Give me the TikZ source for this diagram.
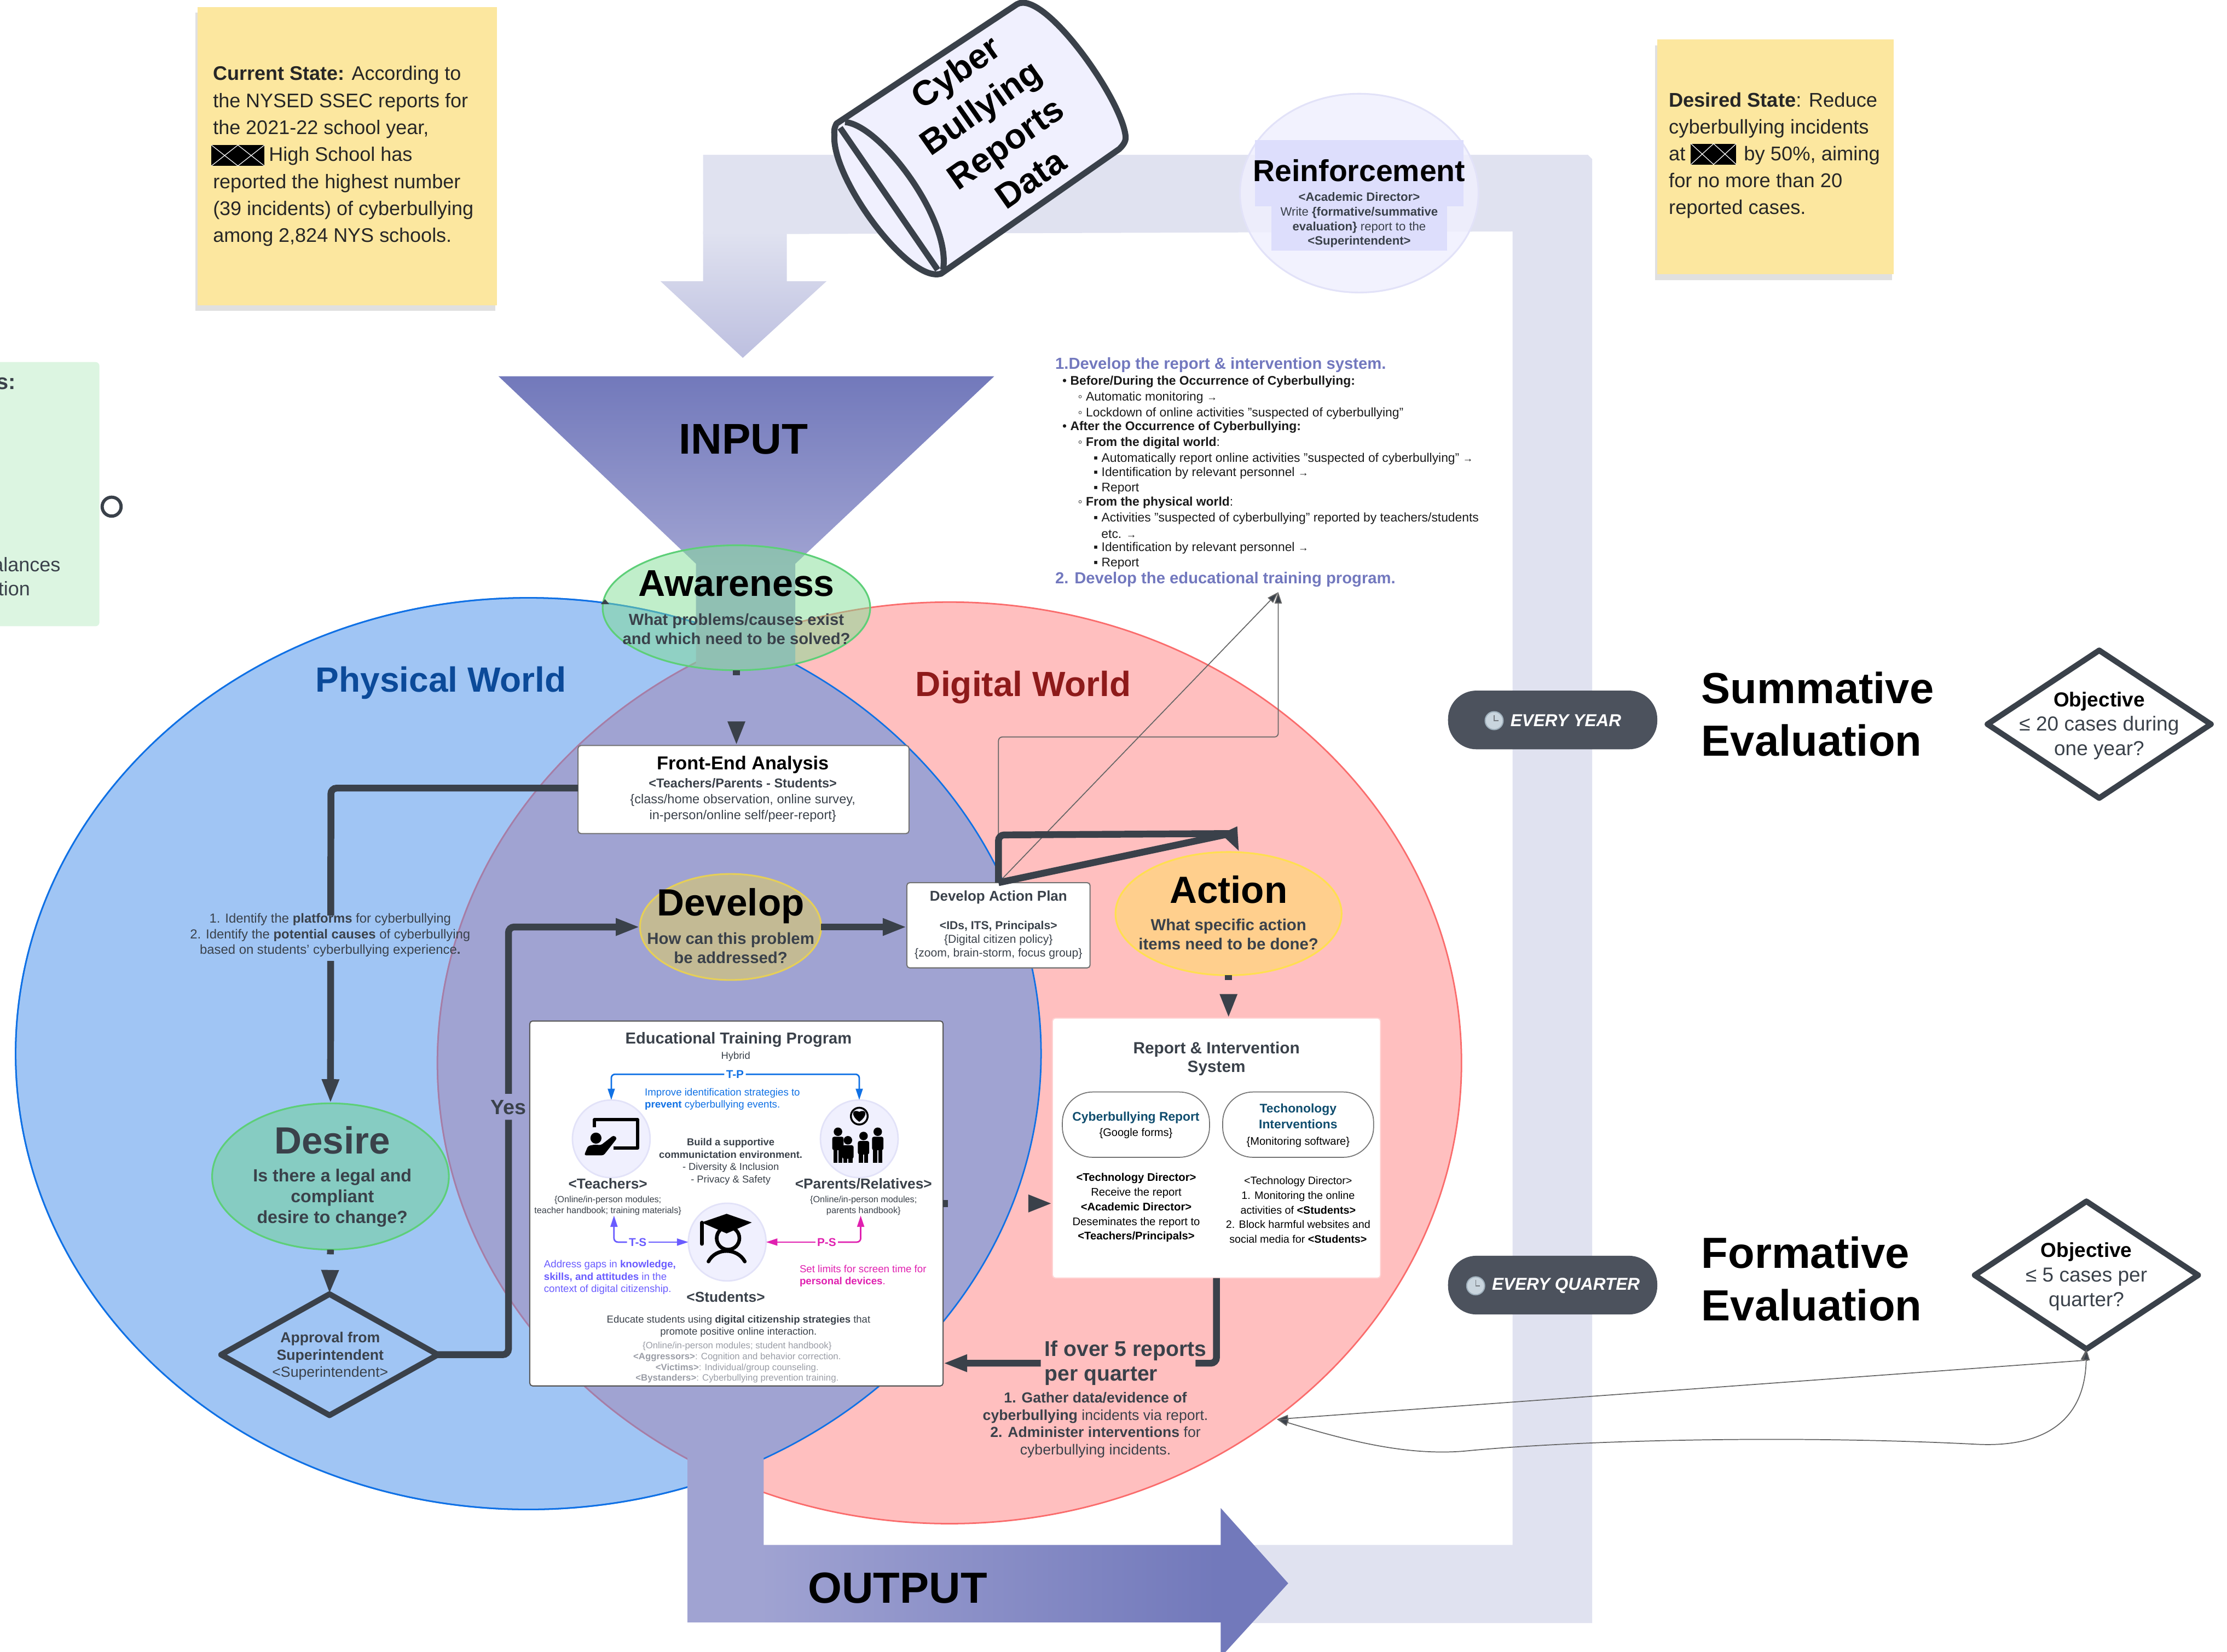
\documentclass[tikz,border=0pt]{standalone}
\usepackage{fontspec}
\setmainfont{Liberation Sans}
\usetikzlibrary{arrows.meta,shapes.geometric,shadows}

\definecolor{darkline}{HTML}{3A414A}
\definecolor{bandcol}{HTML}{E0E2F0}
\definecolor{funneltop}{HTML}{7279BB}
\definecolor{funnelbot}{HTML}{A0A3D2}
\definecolor{worldblue}{HTML}{A0C5F4}
\definecolor{bluestroke}{HTML}{1071E5}
\definecolor{worldpink}{HTML}{FFBFBF}
\definecolor{pinkstroke}{HTML}{FA6C6C}
\definecolor{lensstroke}{HTML}{A47EA8}
\definecolor{stickycol}{HTML}{FCE79F}
\definecolor{mintcol}{HTML}{DCF5E1}
\definecolor{palecol}{HTML}{F0F0FE}
\definecolor{paleedge}{HTML}{E2E2F8}
\definecolor{labelcol}{HTML}{DDDEFC}
\definecolor{headcol}{HTML}{7278BE}
\definecolor{tpcol}{HTML}{1071E5}
\definecolor{tscol}{HTML}{6A5CFF}
\definecolor{pscol}{HTML}{E020B0}
\definecolor{greytext}{HTML}{9A9DA6}
\definecolor{tealtext}{HTML}{0F4D6E}
\definecolor{pillcol}{HTML}{4C525D}
\definecolor{physicaltext}{HTML}{0B4A99}
\definecolor{digitaltext}{HTML}{8E1A1A}
\definecolor{awarefill}{HTML}{81DD95}
\definecolor{greenedge}{HTML}{5DCF78}
\definecolor{desirefill}{HTML}{86CCC2}
\definecolor{developfill}{HTML}{C3BA94}
\definecolor{developedge}{HTML}{E6CF57}
\definecolor{actionfill}{HTML}{FFCF8D}
\definecolor{actionedge}{HTML}{FFDF50}
\definecolor{clockfill}{HTML}{C9D5DE}
\definecolor{clockedge}{HTML}{9FB0BC}

\pgfdeclarehorizontalshading{outputshade}{100bp}{color(0bp)=(funnelbot); color(31bp)=(funnelbot); color(69bp)=(funneltop); color(100bp)=(funneltop)}
\pgfdeclareverticalshading{funnelshade}{100bp}{color(0bp)=(funnelbot); color(42bp)=(funnelbot); color(75bp)=(funneltop); color(100bp)=(funneltop)}

\newcommand{\fsz}[2]{\fontsize{#1pt}{#2pt}\selectfont}
\newcommand{\lmk}[1]{\makebox[4.2pt][l]{#1}}
\newcommand{\rarr}{{\fsz{5.5}{6}→}}

\tikzset{
  txt/.style={inner sep=0pt,outer sep=0pt,align=center,text=darkline},
  txtl/.style={inner sep=0pt,outer sep=0pt,align=left,anchor=west,text=darkline},
  boxnode/.style={rectangle,rounded corners=1.5pt,fill=white,draw=#1,line width=.6pt,inner sep=0pt,outer sep=0pt},
  oval/.style={ellipse,inner sep=0pt,outer sep=0pt,line width=.9pt},
  decision/.style={diamond,draw=darkline,line width=3pt,line join=round,inner sep=0pt,outer sep=0pt},
  sticky/.style={rectangle,fill=stickycol,inner sep=0pt,outer sep=0pt,drop shadow={shadow xshift=-1pt,shadow yshift=-3pt,fill=black,opacity=.12}},
  pillnode/.style={rectangle,fill=pillcol,rounded corners=15pt,inner sep=0pt,outer sep=0pt,minimum width=110.5pt,minimum height=31pt},
  rolecircle/.style={circle,fill=palecol,draw=paleedge,line width=.8pt,minimum size=41pt,inner sep=0pt,outer sep=0pt},
  thickarrow/.style={draw=darkline,line width=3.6pt,rounded corners=3pt,-{Triangle[length=12.75pt,width=8.4pt]}},
  thinarrow/.style={draw=black!60,line width=.5pt,rounded corners=2pt,-{Triangle[length=6pt,width=3.8pt,fill=darkline]}},
  rolearrow/.style={draw=#1,line width=.8pt,rounded corners=2pt,-{Triangle[length=6pt,width=3.7pt]}},
  stubline/.style={dash pattern=on 2.5pt off 200pt},
  redactbox/.style={rectangle,fill=black,inner sep=0pt,outer sep=0pt,minimum width=#1,minimum height=11pt}
}

\begin{document}
\begin{tikzpicture}[x=0.75pt,y=0.75pt,yscale=-1,xscale=1]
  \path[use as bounding box,clip] (0,0) rectangle (1568,1163);

  %Shape: Feedback band
  \fill [bandcol] (495,165) -- (495,109) -- (1118,109) -- (1121,112) -- (1121,1143) -- (860,1143) -- (860,1088) -- (1065,1088) -- (1065,163) -- cycle ;
  %Shape: Arrow into funnel
  \shade [top color=bandcol,bottom color=funnelbot!55!bandcol] (495,163) -- (554,163) -- (554,198) -- (582,198) -- (523,252) -- (465,198) -- (495,198) -- cycle ;

  %Shape: Physical and digital worlds
  \draw [fill=worldblue,draw=bluestroke,line width=.8pt] (372,742) ellipse [x radius=361,y radius=321] ;
  \draw [fill=worldpink,draw=pinkstroke,line width=.8pt] (668.5,748.5) ellipse [x radius=360.5,y radius=324.5] ;
  \begin{scope}
    \clip (372,742) ellipse [x radius=361,y radius=321] ;
    \draw [fill=funnelbot,draw=lensstroke,line width=.8pt] (668.5,748.5) ellipse [x radius=360.5,y radius=324.5] ;
  \end{scope}
  \draw [bluestroke,line width=.8pt] (372,742) ellipse [x radius=361,y radius=321] ;

  %Shape: Funnel
  \shade [shading=funnelshade] (351,265) -- (700,265) -- (560,397) -- (560,468) -- (490,468) -- (490,397) -- cycle ;
  %Shape: Output arrow
  \shade [shading=outputshade] (484,1015) -- (537.7,1015) -- (537.7,1088) -- (859.5,1088) -- (859.5,1062) -- (907,1115) -- (859.5,1167) -- (859.5,1142.5) -- (484,1142.5) -- cycle ;

  %Shape: Cylinder
  \draw [fill=palecol,draw=darkline,line width=3.2pt,line join=round] (589,87) -- (716,3) .. controls (735,-8) and (790,70) .. (792.5,96) .. controls (793,100) and (790,103) .. (788,105) -- (662.6,192.7) .. controls (640,200) and (585,125) .. (587.5,95) .. controls (587,91) and (588,89) .. (589,87) -- cycle ;
  \draw [darkline,line width=3.2pt] (595,86) .. controls (620,88) and (670,155) .. (664,190) ;
  \draw [darkline,line width=3.2pt] (591.5,90) -- (660.2,190) ;
  % Text Node
  \draw (699,88) node [txt,text=black,rotate=35,font=\fsz{18.5}{23}\bfseries] (cylindertext) {Cyber\\Bullying\\Reports\\Data};

  %Shape: Reinforcement
  \draw (957,136) node [oval,fill=palecol,fill opacity=.85,draw=paleedge,minimum width=126pt,minimum height=105pt] (reinforceoval) {};
  \draw (957,122) node [rectangle,fill=labelcol,inner sep=0pt,minimum width=110pt,minimum height=35pt] (reinforcerect) {};
  \draw (957,155) node [rectangle,fill=labelcol,inner sep=0pt,minimum width=93pt,minimum height=32pt,align=center,text=darkline,font=\fsz{6.4}{7.7}] (reinforcetext) {\textbf{<Academic Director>}\\Write \textbf{\{formative/summative}\\\textbf{evaluation\}} report to the\\\textbf{<Superintendent>}};
  % Text Node
  \draw (957,120) node [txt,text=black,font=\fsz{16}{18}\bfseries] (reinforcetitle) {Reinforcement};

  %Shape: Sticky notes
  \draw (244.5,110) node [sticky,minimum width=158.25pt,minimum height=157.5pt] (currentnote) {};
  \draw (1250,110.5) node [sticky,minimum width=125pt,minimum height=124pt] (desirednote) {};
  % Text Node
  \draw (150,110) node [txtl,text=black!85,font=\fsz{10.4}{14.25}] (currenttext) {\textbf{Current State:} According to\\the NYSED SSEC reports for\\the 2021-22 school year,\\\hspace*{29.5pt}High School has\\reported the highest number\\(39 incidents) of cyberbullying\\among 2,824 NYS schools.};
  % Text Node
  \draw (1175,109.5) node [txtl,text=black!85,font=\fsz{10.5}{14.1}] (desiredtext) {\textbf{Desired State}: Reduce\\cyberbullying incidents\\at \hspace*{28pt}by 50\%, aiming\\for no more than 20\\reported cases.};
  %Shape: Redaction
  \draw (167.5,109.5) node [redactbox=28pt] (redactone) {};
  \draw (1206.5,108.5) node [redactbox=24pt] (redacttwo) {};
  \foreach \rn in {redactone,redacttwo}{
    \draw [white,line width=.35pt] (\rn.north west) -- (\rn.south) -- (\rn.north east) (\rn.south west) -- (\rn.north) -- (\rn.south east) ;
  }

  %Shape: Green note
  \draw [fill=mintcol,draw=none,rounded corners=2pt] (-20,255) rectangle (70,441) ;
  \draw (78.6,356.8) node [circle,draw=darkline,line width=1.7pt,minimum size=10pt,inner sep=0pt] (mintring) {};
  % Text Node
  \draw (11,270) node [txtl,anchor=east,font=\fsz{11.5}{14}\bfseries] (mintone) {s:};
  \draw (42.5,397.5) node [txtl,anchor=east,font=\fsz{10.4}{14}] (minttwo) {alances};
  \draw (21.2,414.5) node [txtl,anchor=east,font=\fsz{10.4}{14}] (mintthree) {tion};

  % Text Node
  \draw (523.5,309.5) node [txt,text=black,font=\fsz{22.7}{26}\bfseries] (inputtitle) {INPUT};
  \draw (632,1118.5) node [txt,text=black,font=\fsz{23}{26}\bfseries] (outputtitle) {OUTPUT};
  \draw (310.5,481) node [txt,text=physicaltext,font=\fsz{18.5}{22}\bfseries] (physicaltitle) {Physical World};
  \draw (720.5,484) node [txt,text=digitaltext,font=\fsz{18.5}{22}\bfseries] (digitaltitle) {Digital World};

  % Text Node: development list
  \draw (743,257) node [txtl,text=headcol,font=\fsz{8.45}{10}\bfseries] (listhead) {1.Develop the report \& intervention system.};
  \foreach \yy/\xx/\itm in {
    268/748/{\lmk{•}\textbf{Before/During the Occurrence of Cyberbullying:}},
    279/759/{\lmk{◦}Automatic monitoring \rarr},
    290/759/{\lmk{◦}Lockdown of online activities "suspected of cyberbullying"},
    300/748/{\lmk{•}\textbf{After the Occurrence of Cyberbullying:}},
    311/759/{\lmk{◦}\textbf{From the digital world}:},
    322/770/{\lmk{▪}Automatically report online activities "suspected of cyberbullying" \rarr},
    332/770/{\lmk{▪}Identification by relevant personnel \rarr},
    343/770/{\lmk{▪}Report},
    353/759/{\lmk{◦}\textbf{From the physical world}:},
    364/770/{\lmk{▪}Activities "suspected of cyberbullying" reported by teachers/students},
    375/775.5/{etc. \rarr},
    385/770/{\lmk{▪}Identification by relevant personnel \rarr},
    396/770/{\lmk{▪}Report}}{
    \draw (\xx,\yy+1) node [txtl,text=black!90,font=\fsz{6.6}{8}] (listline\yy) {\itm};
  }
  \draw (743,408) node [txtl,text=headcol,font=\fsz{8.45}{10}\bfseries] (listend) {2. Develop the educational training program.};

  %Shape: Pills
  \draw (1093.2,507) node [pillnode] (yearpill) {};
  \draw (1093.2,905) node [pillnode] (quarterpill) {};
  \draw (1052,507.5) node [circle,fill=clockfill,draw=clockedge,line width=.6pt,minimum size=9.5pt,inner sep=0pt] (yearclock) {};
  \draw (1039,905.5) node [circle,fill=clockfill,draw=clockedge,line width=.6pt,minimum size=9.5pt,inner sep=0pt] (quarterclock) {};
  \foreach \cn in {yearclock,quarterclock}{
    \draw [darkline!70,line width=.4pt] (\cn.center) ++(0,-4) -- ++(0,4) -- ++(3,0) ;
  }
  % Text Node
  \draw (1102.5,507.5) node [txt,text=white,font=\fsz{9.1}{11}\bfseries\itshape] (yeartext) {EVERY YEAR};
  \draw (1102.5,905.5) node [txt,text=white,font=\fsz{9.1}{11}\bfseries\itshape] (quartertext) {EVERY QUARTER};
  \draw (1198,503) node [txtl,text=black,font=\fsz{23}{27.7}\bfseries] (summativetext) {Summative\\Evaluation};
  \draw (1198,900.5) node [txtl,text=black,font=\fsz{23}{27.7}\bfseries] (formativetext) {Formative\\Evaluation};

  %Shape: Objectives
  \draw (1478,510) node [decision,shape aspect=1.5,minimum width=118pt,minimum height=78pt] (objyear) {};
  \draw (1469,898) node [decision,shape aspect=1.5,minimum width=118pt,minimum height=78pt] (objquarter) {};
  % Text Node
  \draw (1478,511) node [txt,font=\fsz{10.7}{12.9}] (objyeartext) {\textcolor{black}{\textbf{Objective}}\\≤ 20 cases during\\one year?};
  \draw (1469,899) node [txt,font=\fsz{10.7}{12.9}] (objquartertext) {\textcolor{black}{\textbf{Objective}}\\≤ 5 cases per\\quarter?};

  %Shape: Process boxes
  \draw (523.5,556) node [boxnode=black!55,minimum width=174.75pt,minimum height=46.5pt] (frontend) {};
  \draw (703,651.6) node [boxnode=black!55,minimum width=96.75pt,minimum height=45pt] (actionplan) {};
  \draw (518.5,847.5) node [boxnode=black!65,minimum width=218.25pt,minimum height=192.75pt] (edubox) {};
  \draw (856.5,808.5) node [boxnode=pink!70,minimum width=173.25pt,minimum height=137.25pt] (reportbox) {};
  % Text Node
  \draw (523,538.5) node [txt,text=black,font=\fsz{9.9}{12}\bfseries] (frontendtitle) {Front-End Analysis};
  \draw (523,563.5) node [txt,font=\fsz{6.8}{8.4}] (frontendtext) {\textbf{<Teachers/Parents - Students>}\\\{class/home observation, online survey,\\in-person/online self/peer-report\}};
  \draw (703,632) node [txt,font=\fsz{7.5}{9}\bfseries] (plantitle) {Develop Action Plan};
  \draw (703,662) node [txt,font=\fsz{6.1}{7.2}] (plantext) {\textbf{<IDs, ITS, Principals>}\\\{Digital citizen policy\}\\\{zoom, brain-storm, focus group\}};

  %Shape: Stage ovals
  \draw (518.5,428) node [oval,fill=awarefill,fill opacity=.5,draw=greenedge,minimum width=141.3pt,minimum height=66pt] (awareness) {};
  \draw (232.7,828.5) node [oval,fill=desirefill,draw=greenedge,minimum width=125pt,minimum height=77.25pt] (desire) {};
  \draw (232,954) node [decision,shape aspect=1.8,minimum width=114.5pt,minimum height=64pt] (approval) {};
  \draw (514.4,652.8) node [oval,fill=developfill,draw=developedge,minimum width=95.7pt,minimum height=56pt] (develop) {};
  \draw (865,643.4) node [oval,fill=actionfill,draw=actionedge,minimum width=119.4pt,minimum height=65.1pt] (actionoval) {};
  % Text Node
  \draw (518.5,411) node [txt,text=black,font=\fsz{19.7}{22}\bfseries] (awaretitle) {Awareness};
  \draw (518.5,443) node [txt,font=\fsz{8.45}{10.3}\bfseries] (awaretext) {What problems/causes exist\\and which need to be solved?};
  \draw (234,803) node [txt,font=\fsz{20}{22}\bfseries] (desiretitle) {Desire};
  \draw (234,843.5) node [txt,font=\fsz{9.3}{11}\bfseries] (desiretext) {Is there a legal and\\compliant\\desire to change?};
  \draw (232.5,955) node [txt,font=\fsz{7.7}{9.2}] (approvaltext) {\textbf{Approval from}\\\textbf{Superintendent}\\<Superintendent>};
  \draw (514.5,638) node [txt,text=black,font=\fsz{20}{22}\bfseries] (developtitle) {Develop};
  \draw (514.5,667.5) node [txt,font=\fsz{8.5}{10.1}\bfseries] (developtext) {How can this problem\\be addressed?};
  \draw (865,626.5) node [txt,text=black,font=\fsz{20}{22}\bfseries] (actiontitle) {Action};
  \draw (865,658) node [txt,font=\fsz{8.5}{10}\bfseries] (actiontext) {What specific action\\items need to be done?};
  \draw (232.5,658.5) node [txt,font=\fsz{6.9}{8.3}] (identifytext) {1. Identify the \textbf{platforms} for cyberbullying\\2. Identify the \textbf{potential causes} of cyberbullying\\based on students' cyberbullying experience\textbf{.}};
  \draw (358,780) node [txt,font=\fsz{10.9}{12}\bfseries] (yestext) {Yes};

  %Shape: Thin feedback lines
  \coordinate (planup) at (703,519);
  \coordinate (listup) at (900,519);
  \coordinate (listtip) at (900,417);
  \coordinate (pinkedge) at (899,999.5);
  \coordinate (objbend) at (1467.5,958);
  \draw [thinarrow] (actionplan.north) -- (planup) -- (listup) -- (listtip) ;
  \draw [thinarrow] (actionplan.north) -- (listtip) ;
  \draw [thinarrow,{Triangle[length=6pt,width=3.8pt,fill=darkline]}-{Triangle[length=6pt,width=3.8pt,fill=darkline]},rounded corners=0pt] (pinkedge) -- (objbend) -- (objquarter.south) ;
  \draw [thinarrow,{Triangle[length=6pt,width=3.8pt,fill=darkline]}-{Triangle[length=6pt,width=3.8pt,fill=darkline]},rounded corners=0pt] (pinkedge) .. controls (950,1015) and (990,1025) .. (1030,1022) .. controls (1100,1015) and (1250,1010) .. (1390,1017) .. controls (1440,1020) and (1468,1000) .. (objquarter.south) ;

  %Shape: Thick connectors
  \coordinate (frontelbow) at (233,555);
  \coordinate (yeslow) at (358,954);
  \coordinate (yeshigh) at (358,652.8);
  \coordinate (reportlow) at (856.5,960);
  \coordinate (eduport) at (664,960);
  \coordinate (planelbow) at (703,588);
  \coordinate (actionbase) at (866.5,587);
  \coordinate (actiontip) at (872.6,600);
  \draw [thickarrow,stubline] (awareness.south) -- (frontend.north -| awareness.south) ;
  \draw [thickarrow,dash pattern=on 196.5pt off 24pt on 200pt] (frontend.west |- frontelbow) -- (frontelbow) -- (desire.north) ;
  \draw [thickarrow,stubline] (desire.south) -- (approval.north) ;
  \draw [thickarrow,dash pattern=on 160pt off 13.7pt on 300pt] (approval.east) -- (yeslow) -- (yeshigh) -- (develop.west) ;
  \draw [thickarrow] (develop.east) -- (develop.east -| actionplan.west) ;
  \draw [thickarrow,-] (actionplan.north) -- (planelbow) -- (actionbase) ;
  \draw [thickarrow,rounded corners=0pt] (actionplan.north) -- (actionbase) -- (actiontip) ;
  \draw [thickarrow,stubline] (actionoval.south) -- (reportbox.north -| actionoval.south) ;
  \draw [thickarrow,stubline] (edubox.east) -- (edubox.east -| reportbox.west) ;
  \draw [thickarrow,dash pattern=on 54.75pt off 81.75pt on 100pt] (reportbox.south) -- (reportlow) -- (eduport) ;
  %Shape: Hidden tip by the blue arc
  \fill [darkline] (423,425.5) -- (426,422) -- (429,425.5) -- cycle ;
  % Text Node
  \draw (735.5,960) node [txtl,font=\fsz{11.3}{13}\bfseries] (reporttrigger) {If over 5 reports\\per quarter};
  \draw (771.3,1003.5) node [txt,font=\fsz{7.7}{9.2}] (triggertext) {\textbf{1. Gather data/evidence of}\\\textbf{cyberbullying} incidents via report.\\\textbf{2. Administer interventions} for\\cyberbullying incidents.};

  %Shape: Report contents
  \draw (799.8,792) node [rectangle,draw=black!55,fill=white,line width=.5pt,rounded corners=16pt,minimum width=77.7pt,minimum height=34.5pt,inner sep=0pt] (reportpill) {};
  \draw (914,792) node [rectangle,draw=black!55,fill=white,line width=.5pt,rounded corners=16pt,minimum width=79.7pt,minimum height=34.5pt,inner sep=0pt] (techpill) {};
  % Text Node
  \draw (856.5,745.5) node [txt,font=\fsz{8.6}{9.9}\bfseries] (reportboxtitle) {Report \& Intervention\\System};
  \draw (799.8,792.5) node [txt,text=black,font=\fsz{5.8}{8}] (reportpilltext) {\textcolor{tealtext}{\fsz{6.6}{8}\textbf{Cyberbullying Report}}\\\{Google forms\}};
  \draw (914,792.5) node [txt,text=black,font=\fsz{5.8}{8.5}] (techpilltext) {\textcolor{tealtext}{\fsz{6.6}{8}\textbf{Techonology}}\\\textcolor{tealtext}{\fsz{6.6}{8}\textbf{Interventions}}\\\{Monitoring software\}};
  \draw (800,850.5) node [txt,text=black,font=\fsz{5.85}{7.75}] (reportleft) {\textbf{<Technology Director>}\\Receive the report\\\textbf{<Academic Director>}\\Deseminates the report to\\\textbf{<Teachers/Principals>}};
  \draw (914,852) node [txt,text=black,font=\fsz{5.7}{7.7}] (reportright) {<Technology Director>\\1. Monitoring the online\\activities of \textbf{<Students>}\\2. Block harmful websites and\\social media for \textbf{<Students>}};

  %Shape: Educational roles
  \draw (430.4,802) node [rolecircle] (teachers) {};
  \draw (605,802) node [rolecircle] (parents) {};
  \draw (512,874.7) node [rolecircle] (students) {};
  % Text Node
  \draw (520,732) node [txt,font=\fsz{8.4}{10}\bfseries] (edutitle) {Educational Training Program};
  \draw (518,744) node [txt,font=\fsz{5.3}{6.5}] (eduhybrid) {Hybrid};
  \draw (517.5,756.5) node [txt,fill=white,text=tpcol,inner xsep=1pt,font=\fsz{6}{7}\bfseries] (tplabel) {T-P};
  \draw (449,874.7) node [txt,fill=white,text=tscol,inner xsep=1pt,font=\fsz{6}{7}\bfseries] (tslabel) {T-S};
  \draw (582,874.7) node [txt,fill=white,text=pscol,inner xsep=1pt,font=\fsz{6}{7}\bfseries] (pslabel) {P-S};
  \coordinate (tstop) at (432.3,856);
  \coordinate (pstop) at (606,856);
  \draw [rolearrow=tpcol] (tplabel) -| (teachers.north) ;
  \draw [rolearrow=tpcol] (tplabel) -| (parents.north) ;
  \draw [rolearrow=tscol] (tslabel) -| (tstop) ;
  \draw [rolearrow=tscol] (tslabel) -- (students.west) ;
  \draw [rolearrow=pscol] (pslabel) -| (pstop) ;
  \draw [rolearrow=pscol] (pslabel) -- (students.east) ;
  \draw (454,774) node [txtl,text=tpcol,font=\fsz{5.4}{6.3}] (tptext) {Improve identification strategies to\\\textbf{prevent} cyberbullying events.};
  \draw (514.5,818) node [txt,font=\fsz{5.3}{6.5}] (buildtext) {\textbf{Build a supportive}\\\textbf{communictation environment.}\\- Diversity \& Inclusion\\- Privacy \& Safety};
  \draw (428,833.5) node [txt,font=\fsz{7.6}{9}\bfseries] (teacherlabel) {<Teachers>};
  \draw (428,849) node [txt,font=\fsz{4.7}{5.6}] (teachersub) {\{Online/in-person modules;\\teacher handbook; training materials\}};
  \draw (608,833.5) node [txt,font=\fsz{7.6}{9}\bfseries] (parentlabel) {<Parents/Relatives>};
  \draw (608,849) node [txt,font=\fsz{4.7}{5.6}] (parentsub) {\{Online/in-person modules;\\parents handbook\}};
  \draw (511,913.5) node [txt,font=\fsz{7.6}{9}\bfseries] (studentlabel) {<Students>};
  \draw (383,899.5) node [txtl,text=tscol,font=\fsz{5.4}{6.4}] (tstext) {Address gaps in \textbf{knowledge,}\\\textbf{skills, and attitudes} in the\\context of digital citizenship.};
  \draw (563,898.5) node [txtl,text=pscol,font=\fsz{5.4}{6.4}] (pstext) {Set limits for screen time for\\\textbf{personal devices}.};
  \draw (520,934) node [txt,font=\fsz{5.35}{6.6}] (studenttext) {Educate students using \textbf{digital citizenship strategies} that\\promote positive online interaction.};
  \draw (519,959.5) node [txt,text=greytext,font=\fsz{4.85}{5.65}] (studentgrey) {\{Online/in-person modules; student handbook\}\\\textbf{<Aggressors>}: Cognition and behavior correction.\\\textbf{<Victims>}: Individual/group counseling.\\\textbf{<Bystanders>}: Cyberbullying prevention training.};

  %Shape: Teacher icon
  \draw [black,line width=1.6pt,line join=round] (418.5,794) -- (418.5,788.5) -- (449,788.5) -- (449,808.5) -- (432,808.5) ;
  \fill [black] (419.6,801.5) circle [radius=3.9] ;
  \fill [black,rounded corners=1pt] (411.3,813.6) -- (414,807) -- (419,806) -- (423,806.5) -- (432,799.5) -- (434.5,801.5) -- (425,813.6) -- cycle ;
  %Shape: Family icon
  \draw [black,line width=1pt] (605,786) circle [radius=5.9] ;
  \fill [black] (605,790) .. controls (598.5,785.5) and (600,780.5) .. (605,783) .. controls (610,780.5) and (611.5,785.5) .. (605,790) -- cycle ;
  \foreach \px/\hy in {590/797,597/803,608/800,618/797}{
    \fill [black] (\px,\hy) circle [radius=3] ;
    \fill [black,rounded corners=1pt] (\px-4,\hy+3.5) rectangle (\px+4,\hy+13) ;
    \fill [black] (\px-3.2,\hy+12) rectangle (\px-.4,819) ;
    \fill [black] (\px+.4,\hy+12) rectangle (\px+3.2,819) ;
  }
  %Shape: Student icon
  \draw [black,line width=1.9pt] (512.6,872) circle [radius=8] ;
  \fill [black] (493.9,860.9) -- (511.6,854.8) -- (529.3,860.9) -- (511.6,868.6) -- cycle ;
  \draw [black,line width=1.9pt,line cap=round] (494.2,861) -- (494.2,876) ;
  \draw [black,line width=1.9pt,line cap=round] (498.8,888.4) .. controls (504,878.5) and (519,878.5) .. (524.4,888.4) ;
\end{tikzpicture}
\end{document}
